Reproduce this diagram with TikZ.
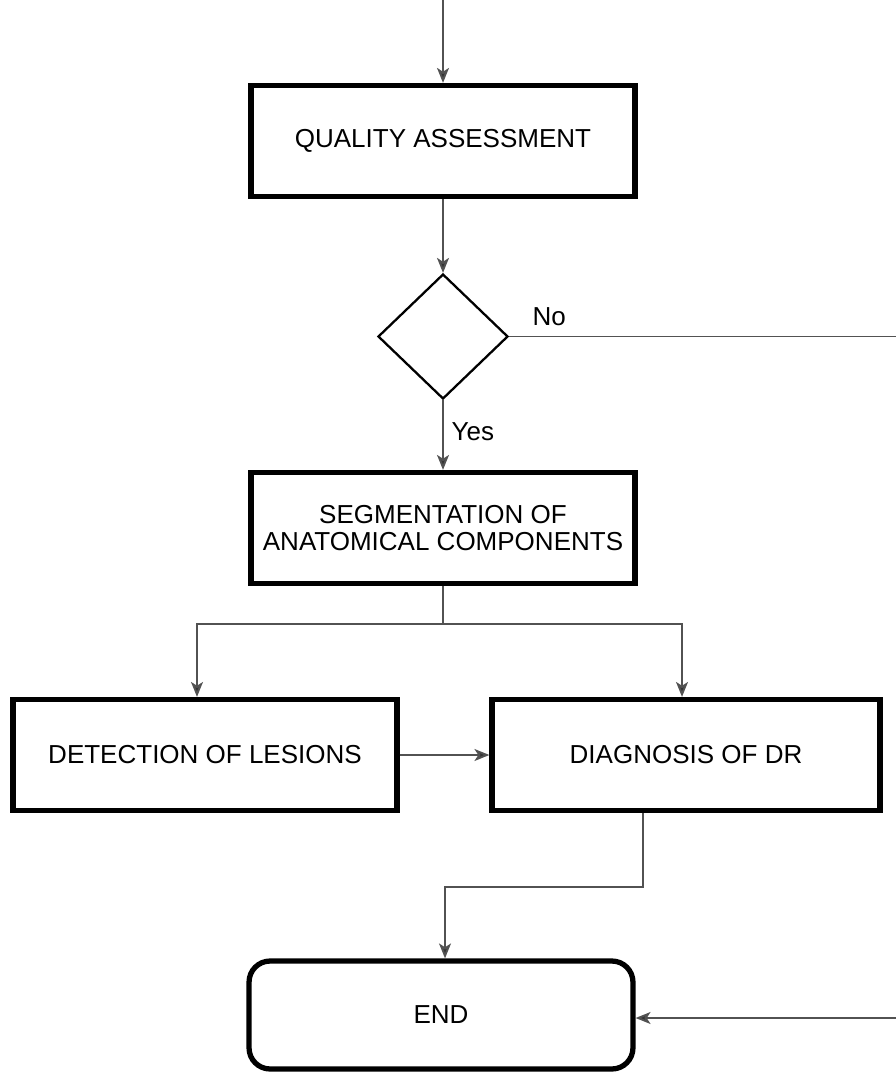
\documentclass[tikz,border=0pt]{standalone}
\usepackage{fontspec}
\setmainfont{Liberation Sans}
\usetikzlibrary{
	arrows.meta,
	shapes.geometric
}

\begin{document}
\begin{tikzpicture}[x=0.02cm, y=-0.02cm,
    font=\fontsize{14.8}{15.6}\selectfont,
    block/.style={draw, line width=3pt, minimum width=7.68cm, minimum height=2.22cm, align=center},
    decision/.style={draw, diamond, line width=1.3pt, minimum width=2.6cm, minimum height=2.5cm, inner sep=0pt},
    conn/.style={draw=black!68, line width=1.1pt},
    arr/.style={conn, -{Stealth[length=8.5pt, width=6.8pt, inset=2.2pt, fill=black!80]}}
  ]
    % Frame
    \useasboundingbox (0,0) rectangle (896,1072);
    \clip (0,0) rectangle (896,1072);
    % Definitions
    \coordinate (start)  at (443,0);
    \coordinate (split)  at (443,624);
    \coordinate (lsplit) at (197,624);
    \coordinate (rsplit) at (682,624);
    \coordinate (dout)   at (643,887);
    \coordinate (din)    at (445,887);
    \coordinate (rimtop) at (910,336.5);
    \coordinate (rimbot) at (910,1018);
    % Blocks
    \node[block] (qa)   at (443,141)   {QUALITY ASSESSMENT};
    \node[decision] (dec) at (443,336.5) {};
    \node[block] (seg)  at (443,528)   {SEGMENTATION OF\\ANATOMICAL COMPONENTS};
    \node[block] (det)  at (205,755)   {DETECTION OF LESIONS};
    \node[block, minimum width=7.76cm] (diag) at (686,755) {DIAGNOSIS OF DR};
    \node[block, rounded corners=12pt, minimum height=2.16cm] (endbox) at (441,1015) {END};
    % Connectors
    \draw[arr]  (start) -- (qa.north);
    \draw[arr]  (qa.south) -- (dec.north);
    \draw[arr]  (dec.south) -- node[right, pos=0.45, xshift=1pt] {Yes} (seg.north);
    \draw[conn] (dec.east) -- node[above, pos=0.1, yshift=2pt] {No} (rimtop) -- (rimbot);
    \draw[arr]  (rimbot) -- (endbox.east |- rimbot);
    \draw[conn] (seg.south) -- (split);
    \draw[arr]  (split) -- (lsplit) -- (det.north -| lsplit);
    \draw[arr]  (split) -- (rsplit) -- (diag.north -| rsplit);
    \draw[arr]  (det.east) -- (diag.west);
    \draw[arr]  (diag.south -| dout) -- (dout) -- (din) -- (endbox.north -| din);
\end{tikzpicture}
\end{document}
